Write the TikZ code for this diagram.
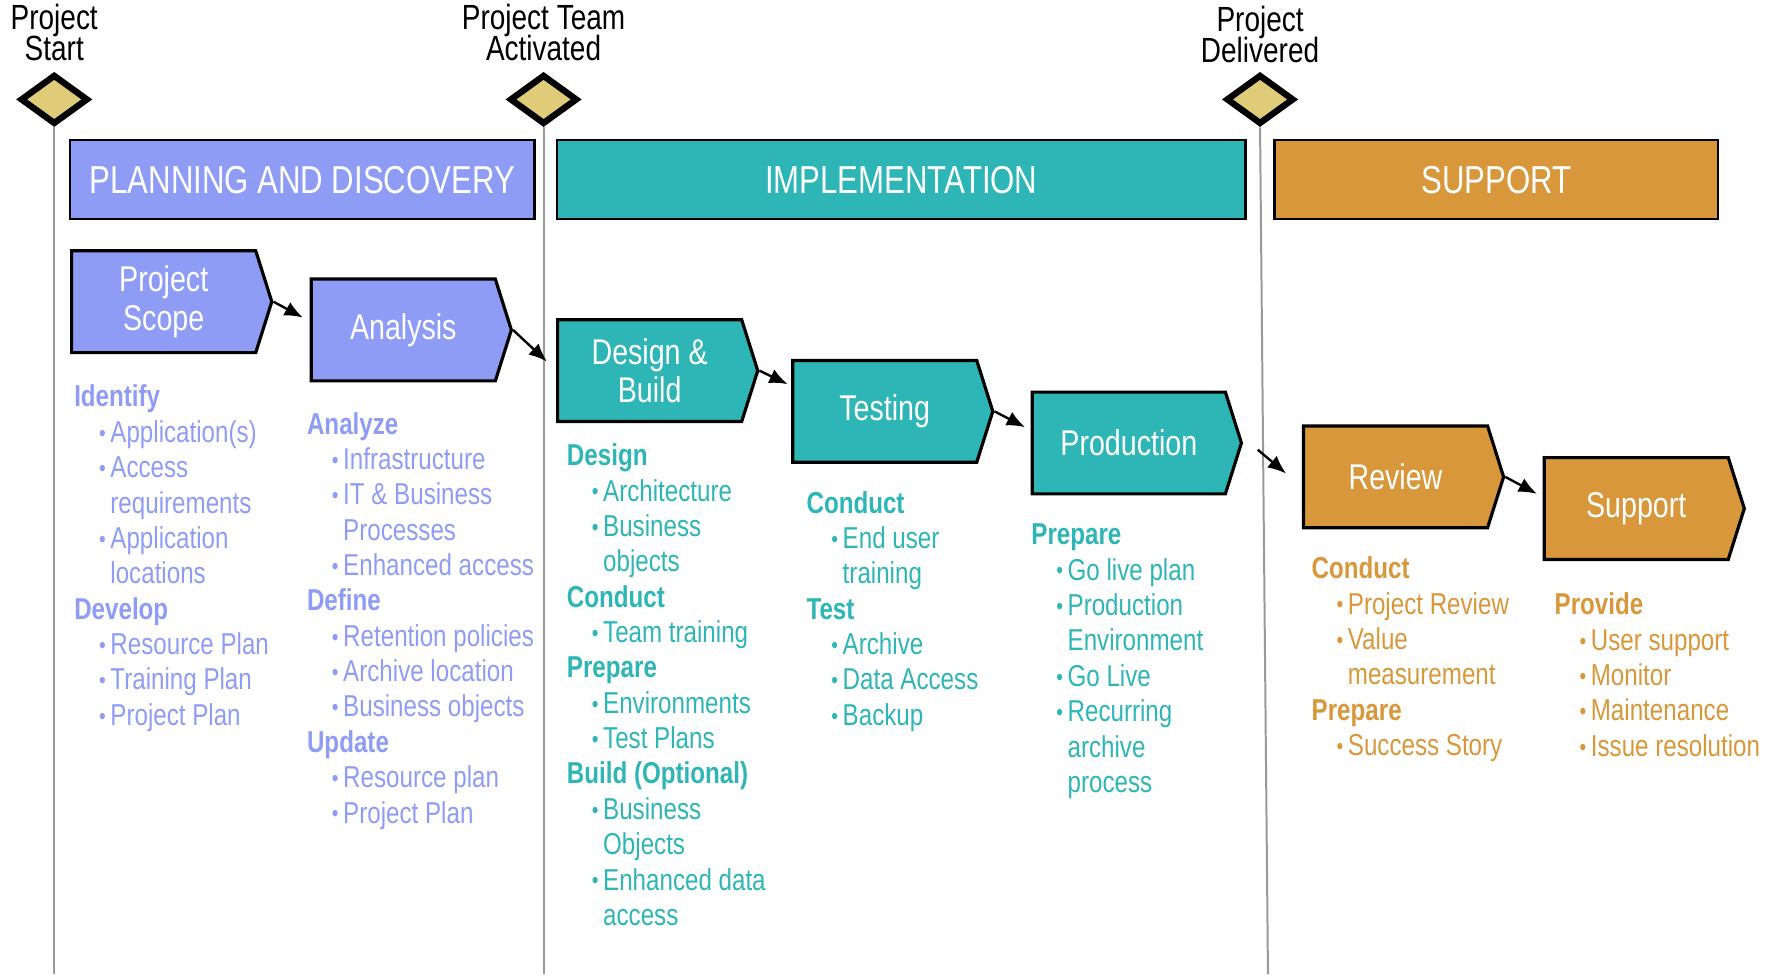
\documentclass[tikz,border=0pt]{standalone}
\usepackage{fontspec}
\setmainfont[FakeStretch=0.8]{Liberation Sans}
\usetikzlibrary{
    positioning,
    shapes.geometric,
    shapes.symbols,
    arrows.meta
}

\definecolor{planblue}{RGB}{143,156,245}
\definecolor{implteal}{RGB}{46,181,181}
\definecolor{suppgold}{RGB}{216,151,58}
\definecolor{mstone}{RGB}{224,204,120}

\newcommand{\bul}{\makebox[0.1cm][l]{\raisebox{0.3pt}{\fontsize{6}{6}\selectfont\textbullet}}}
\newcommand{\hd}[1]{\textbf{#1}}
\newcommand{\itm}[1]{\hspace*{0.22cm}\bul#1}
\newcommand{\cnt}[1]{\hspace*{0.32cm}#1}
\newcommand{\tightlines}{\lineskiplimit=-6pt\relax}

\begin{document}
\begin{tikzpicture}[x=0.01cm,y=-0.01cm,
    phase/.style={draw=black,line width=0.6pt,minimum height=0.7cm,inner sep=0pt,text=white,font=\fontsize{9.8}{11}\selectfont},
    stage/.style={signal,signal to=east,signal pointer angle=145,draw=black,line width=0.8pt,minimum width=1.77cm,minimum height=0.9cm,inner sep=0pt,text=white,align=center,font=\fontsize{9}{9.6}\selectfont},
    mile/.style={diamond,draw=black,line width=1.6pt,fill=mstone,minimum width=0.6cm,minimum height=0.44cm,inner sep=0pt},
    milelabel/.style={align=center,inner sep=0pt,font=\fontsize{8.8}{7.7}\selectfont\tightlines},
    notes/.style={align=left,anchor=north west,inner sep=0pt,font=\fontsize{7.6}{8.9}\selectfont},
    flow/.style={->,>={Latex[length=4.6pt,width=3.8pt]},line width=0.6pt},
    guide/.style={draw=black!40,line width=0.5pt}
]
    \useasboundingbox (0,0) rectangle (1568,862);

    % milestones
    \node[mile] (start) at (48,88) {};
    \node[mile] (team) at (481,88) {};
    \node[mile] (delivered) at (1115,88) {};
    \node[milelabel,above=0.09cm of start] (starttext) {Project\\Start};
    \node[milelabel,above=0.09cm of team] (teamtext) {Project Team\\Activated};
    \node[milelabel,above=0.07cm of delivered] (deliveredtext) {Project\\Delivered};
    \coordinate (startend) at (48,862);
    \coordinate (teamend) at (481,862);
    \coordinate (deliveredend) at (1122,862);
    \draw[guide] (start.south) -- (startend);
    \draw[guide] (team.south) -- (teamend);
    \draw[guide] (delivered.south) -- (deliveredend);

    % phases
    \node[phase,fill=planblue,minimum width=4.11cm] (plan) at (267.5,159) {PLANNING AND DISCOVERY};
    \node[phase,fill=implteal,minimum width=6.09cm] (impl) at (797.5,159) {IMPLEMENTATION};
    \node[phase,fill=suppgold,minimum width=3.92cm] (supp) at (1324,159) {SUPPORT};

    % stages
    \node[stage,fill=planblue,anchor=west] (scope) at (62,267) {Project\\Scope};
    \node[stage,fill=planblue,anchor=west] (analysis) at (274,292) {Analysis};
    \node[stage,fill=implteal,anchor=west] (design) at (492,328) {Design \&\\Build};
    \node[stage,fill=implteal,anchor=west] (testing) at (700,364) {Testing};
    \node[stage,fill=implteal,anchor=west,minimum width=1.85cm] (production) at (912,392) {Production};
    \node[stage,fill=suppgold,anchor=west] (review) at (1152,422) {Review};
    \node[stage,fill=suppgold,anchor=west] (support) at (1365,450) {Support};

    \draw[flow] (scope.east) -- ([xshift=-0.06cm,yshift=0.11cm]analysis.west);
    \draw[flow] (analysis.east) -- ([xshift=-0.08cm,yshift=0.08cm]design.west);
    \draw[flow] (design.east) -- ([xshift=-0.03cm,yshift=0.24cm]testing.west);
    \draw[flow] (testing.east) -- ([xshift=-0.05cm,yshift=0.14cm]production.west);
    \draw[flow] ([xshift=0.13cm,yshift=-0.06cm]production.east) -- ([xshift=-0.14cm,yshift=0.03cm]review.west);
    \draw[flow] (review.east) -- ([xshift=-0.05cm,yshift=0.13cm]support.west);

    % notes
    \node[notes,text=planblue] (scopenotes) at (65,340) {\hd{Identify}\\ \itm{Application(s)}\\ \itm{Access}\\ \cnt{requirements}\\ \itm{Application}\\ \cnt{locations}\\ \hd{Develop}\\ \itm{Resource Plan}\\ \itm{Training Plan}\\ \itm{Project Plan}};
    \node[notes,text=planblue] (analysisnotes) at (271,364) {\hd{Analyze}\\ \itm{Infrastructure}\\ \itm{IT \& Business}\\ \cnt{Processes}\\ \itm{Enhanced access}\\ \hd{Define}\\ \itm{Retention policies}\\ \itm{Archive location}\\ \itm{Business objects}\\ \hd{Update}\\ \itm{Resource plan}\\ \itm{Project Plan}};
    \node[notes,text=implteal] (designnotes) at (501,392) {\hd{Design}\\ \itm{Architecture}\\ \itm{Business}\\ \cnt{objects}\\ \hd{Conduct}\\ \itm{Team training}\\ \hd{Prepare}\\ \itm{Environments}\\ \itm{Test Plans}\\ \hd{Build (Optional)}\\ \itm{Business}\\ \cnt{Objects}\\ \itm{Enhanced data}\\ \cnt{access}};
    \node[notes,text=implteal] (testingnotes) at (713,434) {\hd{Conduct}\\ \itm{End user}\\ \cnt{training}\\ \hd{Test}\\ \itm{Archive}\\ \itm{Data Access}\\ \itm{Backup}};
    \node[notes,text=implteal] (productionnotes) at (912,463) {\hd{Prepare}\\ \itm{Go live plan}\\ \itm{Production}\\ \cnt{Environment}\\ \itm{Go Live}\\ \itm{Recurring}\\ \cnt{archive}\\ \cnt{process}};
    \node[notes,text=suppgold] (reviewnotes) at (1160,492) {\hd{Conduct}\\ \itm{Project Review}\\ \itm{Value}\\ \cnt{measurement}\\ \hd{Prepare}\\ \itm{Success Story}};
    \node[notes,text=suppgold] (supportnotes) at (1375,524) {\hd{Provide}\\ \itm{User support}\\ \itm{Monitor}\\ \itm{Maintenance}\\ \itm{Issue resolution}};
\end{tikzpicture}
\end{document}
